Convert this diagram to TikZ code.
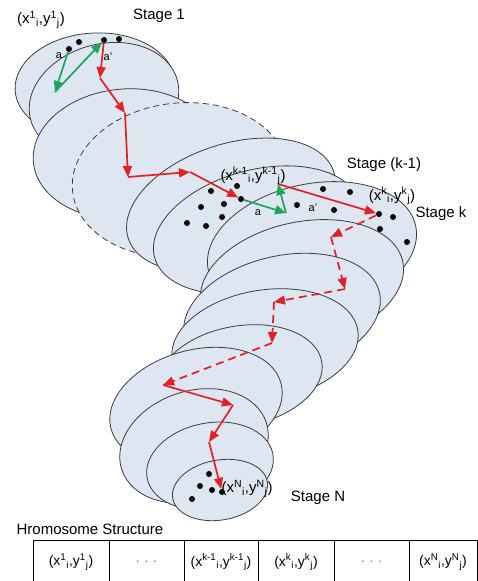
\documentclass[tikz,border=0pt]{standalone}
\usepackage{fontspec}
\setmainfont{Liberation Sans}
\usetikzlibrary{arrows.meta}
\definecolor{diskfill}{RGB}{222,230,242}
\definecolor{diskline}{RGB}{60,60,60}
\definecolor{redpath}{RGB}{228,32,36}
\definecolor{greenpath}{RGB}{30,165,90}
\begin{document}
\begin{tikzpicture}[x=1pt,y=-1pt,
  disk/.style={fill=diskfill,draw=diskline,line width=0.8pt},
  dashdisk/.style={disk,dash pattern=on 6pt off 4pt},
  dot/.style={circle,fill=black,inner sep=0pt,minimum size=6pt},
  redarrow/.style={draw=redpath,line width=1.7pt,-{Triangle[length=11pt,width=9pt]}},
  reddash/.style={redarrow,dash pattern=on 8pt off 5pt},
  greenarrow/.style={draw=greenpath,line width=1.7pt,-{Triangle[length=11pt,width=9pt]}},
  lbl/.style={font=\fontsize{15}{18}\selectfont,inner sep=0pt},
  small/.style={font=\fontsize{11}{13}\selectfont,inner sep=0pt},
  cell/.style={draw=black,line width=0.8pt,minimum height=44pt,font=\fontsize{14}{17}\selectfont,inner sep=0pt}]
\useasboundingbox (0,0) rectangle (478,581);
% disks, back to front
\draw[disk,rotate around={3:(95,86)}] (95,86) ellipse [x radius=80,y radius=53];
\draw[disk,rotate around={15:(104,100)}] (104,100) ellipse [x radius=76,y radius=56];
\draw[disk,rotate around={5:(125,154)}] (125,154) ellipse [x radius=92,y radius=65];
\draw[dashdisk,rotate around={6:(180,180)}] (180,180) ellipse [x radius=108,y radius=77];
\draw[disk,rotate around={18:(231,205)}] (231,205) ellipse [x radius=108,y radius=61];
\draw[disk,rotate around={15:(257,230)}] (257,230) ellipse [x radius=106,y radius=60];
\draw[disk,rotate around={12:(312,248)}] (312,248) ellipse [x radius=106,y radius=64];
\draw[disk,rotate around={12:(302,283)}] (302,283) ellipse [x radius=103,y radius=61];
\draw[disk,rotate around={13:(282,315)}] (282,315) ellipse [x radius=100,y radius=59];
\draw[disk,rotate around={9:(265,345)}] (265,345) ellipse [x radius=94,y radius=55];
\draw[disk,rotate around={10:(240,376)}] (240,376) ellipse [x radius=83,y radius=50];
\draw[disk,rotate around={15:(196,406)}] (196,406) ellipse [x radius=88,y radius=56];
\draw[disk,rotate around={18:(194,446)}] (194,446) ellipse [x radius=76,y radius=55];
\draw[disk,rotate around={11:(210,466)}] (210,466) ellipse [x radius=64,y radius=43];
\draw[disk,rotate around={10:(220,490)}] (220,490) ellipse [x radius=48,y radius=30];
% dots, stage 1
\node[dot] (s1a) at (69,49) {};
\node[dot] (s1b) at (79,42) {};
\node[dot] (s1c) at (104,40) {};
\node[dot] (s1d) at (119,39) {};
% dots, stages k-1 and k
\node[dot] (k1) at (241,199) {};
\node[dot] (p1) at (211,191) {};
\node[dot] (p2) at (237,186) {};
\node[dot] (p3) at (201,207) {};
\node[dot] (p4) at (224,204) {};
\node[dot] (p5) at (222,217) {};
\node[dot] (p6) at (187,223) {};
\node[dot] (p7) at (206,226) {};
\node[dot] (q1) at (297,205) {};
\node[dot] (q2) at (323,189) {};
\node[dot] (q3) at (350,192) {};
\node[dot] (q4) at (334,210) {};
\node[dot] (kd) at (379,214) {};
\node[dot] (q5) at (393,217) {};
\node[dot] (q6) at (380,229) {};
\node[dot] (q7) at (407,242) {};
% dots, stage N
\node[dot] (n1) at (209,474) {};
\node[dot] (n2) at (200,486) {};
\node[dot] (n3) at (212,490) {};
\node[dot] (nd) at (222,492) {};
\node[dot] (n5) at (192,499) {};
% path corners
\coordinate (r1) at (100,78);
\coordinate (r2) at (125,113);
\coordinate (r3) at (128,177);
\coordinate (r4) at (190,172);
\coordinate (g1) at (55,92);
\coordinate (g2) at (286,213);
\coordinate (g3) at (278,184);
\coordinate (d1) at (331,237);
\coordinate (d2) at (345,289);
\coordinate (d3) at (274,302);
\coordinate (d4) at (272,343);
\coordinate (d5) at (163,385);
\coordinate (d6) at (233,405);
\coordinate (d7) at (209,442);
% green moves
\draw[greenarrow] (s1a) -- (g1);
\draw[greenarrow] (g1) -- (s1c);
\draw[greenarrow] (k1) -- (g2);
\draw[greenarrow] (g2) -- (g3);
% red path
\draw[redarrow] (s1c) -- (r1);
\draw[redarrow] (r1) -- (r2);
\draw[redarrow] (r2) -- (r3);
\draw[redarrow] (r3) -- (r4);
\draw[redarrow] (r4) -- (k1);
\draw[redarrow] (g3) -- (kd);
\draw[reddash] (kd) -- (d1);
\draw[reddash] (d1) -- (d2);
\draw[reddash] (d2) -- (d3);
\draw[reddash] (d3) -- (d4);
\draw[reddash] (d4) -- (d5);
\draw[redarrow] (d5) -- (d6);
\draw[redarrow] (d6) -- (d7);
\draw[redarrow] (d7) -- (nd);
% labels
\node[lbl] (l1) at (41,20) {(x\textsuperscript{1}\textsubscript{i},y\textsuperscript{1}\textsubscript{j})};
\node[lbl] (st1) at (159,16) {Stage 1};
\node[small] (a1) at (59,56) {a};
\node[small] (a1p) at (108,57) {a'};
\node[lbl] (lk1) at (253,176) {(x\textsuperscript{k-1}\textsubscript{i},y\textsuperscript{k-1}\textsubscript{j})};
\node[lbl] (stk1) at (384,165) {Stage (k-1)};
\node[lbl] (lk) at (392,196) {(x\textsuperscript{k}\textsubscript{i},y\textsuperscript{k}\textsubscript{j})};
\node[lbl] (stk) at (441,214) {Stage k};
\node[small] (a2) at (258,213) {a};
\node[small] (a2p) at (313,208) {a'};
\node[lbl] (lN) at (247,489) {(x\textsuperscript{N}\textsubscript{i},y\textsuperscript{N}\textsubscript{j})};
\node[lbl] (stN) at (318,498) {Stage N};
\node[lbl] (hs) at (90,529) {Hromosome Structure};
% chromosome table
\node[cell,minimum width=76pt] (c1) at (71,562) {(x\textsuperscript{1}\textsubscript{i},y\textsuperscript{1}\textsubscript{j})};
\node[cell,minimum width=75pt] (c2) at (146.5,562) {\textcolor{gray}{.\,\,.\,\,.}};
\node[cell,minimum width=74pt] (c3) at (221,562) {(x\textsuperscript{k-1}\textsubscript{i},y\textsuperscript{k-1}\textsubscript{j})};
\node[cell,minimum width=76pt] (c4) at (296,562) {(x\textsuperscript{k}\textsubscript{i},y\textsuperscript{k}\textsubscript{j})};
\node[cell,minimum width=75pt] (c5) at (371.5,562) {\textcolor{gray}{.\,\,.\,\,.}};
\node[cell,minimum width=68pt] (c6) at (443,562) {(x\textsuperscript{N}\textsubscript{i},y\textsuperscript{N}\textsubscript{j})};
\end{tikzpicture}
\end{document}
